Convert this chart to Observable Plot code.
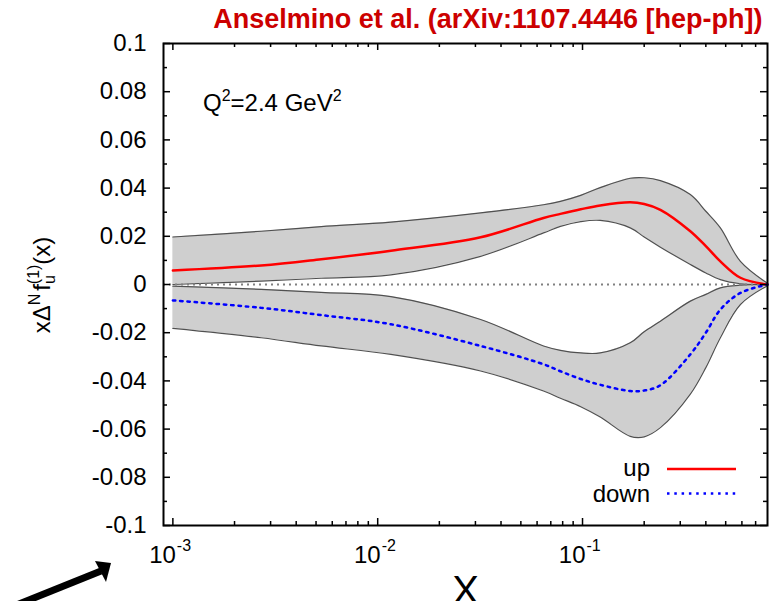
<!DOCTYPE html>
<html>
<head>
<meta charset="utf-8">
<script src="https://cdn.jsdelivr.net/npm/d3@7"></script>
<script src="https://cdn.jsdelivr.net/npm/@observablehq/plot@0.6"></script>
<style>
  html, body { margin: 0; padding: 0; background: white; }
</style>
</head>
<body>
<div id="chart"></div>
<script>
// ---- data ----
const TITLE = "Anselmino et al. (arXiv:1107.4446 [hep-ph])";
const xs       = [0.001, 0.0027, 0.0053, 0.0116, 0.0318, 0.0645, 0.078, 0.098, 0.122, 0.171, 0.2, 0.24, 0.336, 0.4, 0.471, 0.59, 0.8];
const upTop    = [0.0197, 0.0221, 0.0240, 0.0259, 0.0297, 0.0331, 0.0345, 0.0370, 0.0402, 0.0441, 0.0443, 0.0431, 0.0373, 0.0304, 0.0235, 0.0096, 0.0005];
const upMid    = [0.0058, 0.0079, 0.0105, 0.0140, 0.0196, 0.0276, 0.0293, 0.0312, 0.0328, 0.0341, 0.0334, 0.0310, 0.0221, 0.0159, 0.0096, 0.0028, 0.0];
const upBot    = [0.0000, 0.0014, 0.0026, 0.0040, 0.0117, 0.0214, 0.0241, 0.0261, 0.0266, 0.0235, 0.0197, 0.0155, 0.0083, 0.0048, 0.0020, 0.0003, 0.0];
const downTop  = [-0.0007, -0.0020, -0.0033, -0.0050, -0.0145, -0.0255, -0.0273, -0.0284, -0.0284, -0.0242, -0.0196, -0.0152, -0.0069, -0.0041, -0.0014, -0.0003, 0];
const downMid  = [-0.0066, -0.0097, -0.0127, -0.0165, -0.0255, -0.0331, -0.0360, -0.0392, -0.0416, -0.0442, -0.0440, -0.0418, -0.0290, -0.0200, -0.0104, -0.0035, 0];
const downBot  = [-0.0182, -0.0221, -0.0255, -0.0290, -0.0359, -0.0442, -0.0472, -0.0507, -0.0550, -0.0630, -0.0632, -0.0594, -0.0455, -0.0345, -0.0221, -0.0083, -0.0005];

const yMajor = [-0.1, -0.08, -0.06, -0.04, -0.02, 0, 0.02, 0.04, 0.06, 0.08, 0.1];
const yTickLabels = ["-0.1", "-0.08", "-0.06", "-0.04", "-0.02", "0", "0.02", "0.04", "0.06", "0.08", "0.1"];
const yMinor = [-0.09, -0.07, -0.05, -0.03, -0.01, 0.01, 0.03, 0.05, 0.07, 0.09];
const xMajor = [0.001, 0.01, 0.1];
const xTickBase = ["10", "10", "10"];
const xTickExp = ["-3", "-2", "-1"];
const xMinor = [0.002, 0.003, 0.004, 0.005, 0.006, 0.007, 0.008, 0.009,
                0.02, 0.03, 0.04, 0.05, 0.06, 0.07, 0.08, 0.09,
                0.2, 0.3, 0.4, 0.5, 0.6, 0.7];
const seriesNames = ["up", "down"];

// ---- layout ----
const W = 770, H = 601;
const ML = 163, MR = 3, MT = 43, MB = 76;
const FW = W - ML - MR, FH = H - MT - MB;
const MAJ = 7, MIN = 4;
const curve = "catmull-rom";
const BAND = "#cfcfcf", EDGE = "#505050";

const rows = xs.map((x, i) => ({x, upTop: upTop[i], up: upMid[i], upBot: upBot[i],
  downTop: downTop[i], down: downMid[i], downBot: downBot[i]}));

const chart = Plot.plot({
  width: W, height: H,
  marginLeft: ML, marginRight: MR, marginTop: MT, marginBottom: MB,
  style: {fontFamily: "'Liberation Sans', Arial, Helvetica, sans-serif", fontSize: "24px", background: "white", color: "black"},
  x: {type: "log", domain: [0.0009, 0.8], axis: null},
  y: {domain: [-0.1, 0.1], axis: null},
  marks: [
    Plot.areaY(rows, {x: "x", y1: "upBot", y2: "upTop", fill: BAND, curve}),
    Plot.areaY(rows, {x: "x", y1: "downBot", y2: "downTop", fill: BAND, curve}),
    Plot.line(rows, {x: "x", y: "upTop", stroke: EDGE, strokeWidth: 1.2, curve}),
    Plot.line(rows, {x: "x", y: "upBot", stroke: EDGE, strokeWidth: 1.2, curve}),
    Plot.line(rows, {x: "x", y: "downTop", stroke: EDGE, strokeWidth: 1.2, curve}),
    Plot.line(rows, {x: "x", y: "downBot", stroke: EDGE, strokeWidth: 1.2, curve}),
    Plot.ruleY([0], {stroke: "#808080", strokeWidth: 2, strokeDasharray: "2,4"}),
    Plot.line(rows, {x: "x", y: "up", stroke: "#ff0000", strokeWidth: 2.5, curve}),
    Plot.line(rows, {x: "x", y: "down", stroke: "#0000ff", strokeWidth: 2.5, strokeDasharray: "2.5,4.8", curve}),
    // inward ticks on all four sides
    Plot.tickY(yMajor, {y: d => d, stroke: "black", strokeWidth: 1.5, insetRight: FW - MAJ}),
    Plot.tickY(yMajor, {y: d => d, stroke: "black", strokeWidth: 1.5, insetLeft: FW - MAJ}),
    Plot.tickY(yMinor, {y: d => d, stroke: "black", strokeWidth: 1.5, insetRight: FW - MIN}),
    Plot.tickY(yMinor, {y: d => d, stroke: "black", strokeWidth: 1.5, insetLeft: FW - MIN}),
    Plot.tickX(xMajor, {x: d => d, stroke: "black", strokeWidth: 1.5, insetTop: FH - MAJ}),
    Plot.tickX(xMajor, {x: d => d, stroke: "black", strokeWidth: 1.5, insetBottom: FH - MAJ}),
    Plot.tickX(xMinor, {x: d => d, stroke: "black", strokeWidth: 1.5, insetTop: FH - MIN}),
    Plot.tickX(xMinor, {x: d => d, stroke: "black", strokeWidth: 1.5, insetBottom: FH - MIN}),
    Plot.frame({stroke: "black", strokeWidth: 2}),
    Plot.axisY(yMajor, {anchor: "left", tickSize: 0, tickPadding: 17, tickFormat: (d) => yTickLabels[yMajor.indexOf(d)], fontSize: 24}),
    Plot.text(xMajor, {x: d => d, frameAnchor: "bottom", text: (d, i) => xTickBase[i], textAnchor: "end", dx: 3, dy: 37, lineAnchor: "bottom", fontSize: 24}),
    Plot.text(xMajor, {x: d => d, frameAnchor: "bottom", text: (d, i) => xTickExp[i], textAnchor: "start", dx: 4, dy: 25, lineAnchor: "bottom", fontSize: 16}),
    Plot.text(["X"], {text: d => d, frameAnchor: "bottom", dy: 78, lineAnchor: "bottom", fontSize: 40}),
    Plot.text([TITLE], {text: d => d, frameAnchor: "top-right", textAnchor: "end", dx: -5, dy: -16, lineAnchor: "bottom", fontSize: 27, fontWeight: "bold", fill: "#cc0000"})
  ]
});

const svg = d3.select(chart);

// y-axis label xΔ^N f_u^(1)(x)
const yl = svg.append("text")
  .attr("transform", "translate(50,285) rotate(-90)")
  .attr("text-anchor", "middle").attr("font-size", 24).attr("fill", "black");
yl.append("tspan").text("xΔ");
yl.append("tspan").attr("font-size", 16).attr("dy", -10).text("N");
yl.append("tspan").attr("dy", 10).attr("dx", 3).text("f");
yl.append("tspan").attr("font-size", 16).attr("dy", 5).text("u");
yl.append("tspan").attr("font-size", 16).attr("dx", -9).attr("dy", -16).text("(1)");
yl.append("tspan").attr("dy", 11).text("(x)");

// Q^2 annotation
const q = svg.append("text").attr("x", 203).attr("y", 111).attr("text-anchor", "start")
  .attr("font-size", 24).attr("fill", "black");
q.append("tspan").text("Q");
q.append("tspan").attr("font-size", 16).attr("dy", -10).text("2");
q.append("tspan").attr("dy", 10).text("=2.4 GeV");
q.append("tspan").attr("font-size", 16).attr("dy", -10).text("2");

// legend
const leg = svg.append("g");
leg.append("text").attr("x", 650).attr("y", 476).attr("text-anchor", "end").attr("font-size", 24).text(seriesNames[0]);
leg.append("text").attr("x", 650).attr("y", 502).attr("text-anchor", "end").attr("font-size", 24).text(seriesNames[1]);
leg.append("line").attr("x1", 667).attr("x2", 736).attr("y1", 469).attr("y2", 469)
  .attr("stroke", "#ff0000").attr("stroke-width", 2.5);
leg.append("line").attr("x1", 667).attr("x2", 736).attr("y1", 493.5).attr("y2", 493.5)
  .attr("stroke", "#0000ff").attr("stroke-width", 2.5).attr("stroke-dasharray", "2.5,4.8");

// annotation arrow at bottom left
const arr = svg.append("g");
arr.append("line").attr("x1", 14).attr("y1", 606).attr("x2", 101).attr("y2", 571)
  .attr("stroke", "black").attr("stroke-width", 7);
arr.append("polygon").attr("points", "111,563 95,561 106,582").attr("fill", "black");

document.getElementById("chart").appendChild(chart);
</script>
</body>
</html>
